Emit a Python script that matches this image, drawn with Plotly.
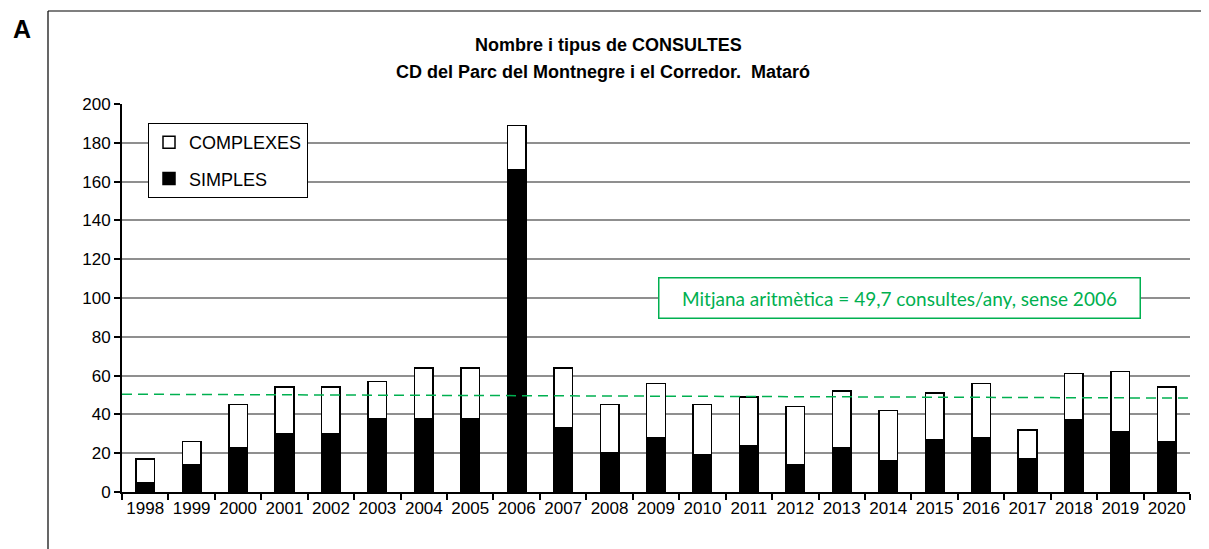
import plotly.graph_objects as go

years = [str(y) for y in range(1998, 2021)]
total = [17, 26, 45, 54, 54, 57, 64, 64, 189, 64, 45, 56, 45, 49, 44, 52, 42, 51, 56, 32, 61, 62, 54]
simples = [5, 14, 23, 30, 30, 38, 38, 38, 166, 33, 20, 28, 19, 24, 14, 23, 16, 27, 28, 17, 37, 31, 26]
complexes = [t - s for t, s in zip(total, simples)]
mean_line = [50.4, 48.4]  # drawn dashed line (left, right)
y_ticks = list(range(0, 201, 20))

OFF = 8  # page body margin offset
W, H = 1209, 549
# desired screen positions: plot left 122, right 1190, top 104, bottom 492
ML = 122 - OFF
MT = 104 - OFF
MR = W - (1190 - OFF)
MB = H - (492 - OFF)
PW = W - ML - MR
PH = H - MT - MB

def px_x(p):
    return (p - OFF - ML) / PW

def px_y(p):
    return (H - MB - (p - OFF)) / PH

FONT = "Liberation Sans, Arial, sans-serif"
GREEN = "#00B050"

fig = go.Figure()
fig.add_trace(go.Bar(
    x=years, y=simples, name="SIMPLES", legendgroup="s", legendrank=2,
    marker=dict(color="black", line=dict(color="black", width=1.5)), width=0.4,
))
fig.add_trace(go.Bar(
    x=years, y=complexes, name="COMPLEXES", legendgroup="c", legendrank=1,
    marker=dict(color="white", line=dict(color="black", width=1.5)), width=0.4,
))

fig.update_layout(
    width=W, height=H,
    margin=dict(l=ML, r=MR, t=MT, b=MB, autoexpand=False),
    barmode="stack",
    plot_bgcolor="white", paper_bgcolor="white",
    font=dict(family=FONT, size=16, color="black"),
    showlegend=True,
    legend=dict(
        x=px_x(148), y=px_y(123), xanchor="left", yanchor="top",
        bordercolor="black", borderwidth=1, bgcolor="white",
        font=dict(family=FONT, size=18), tracegroupgap=10,
        itemwidth=30,
    ),
    xaxis=dict(
        type="category", showline=True, linecolor="black", linewidth=2,
        ticks="outside", tickson="boundaries", ticklen=6, tickcolor="black", tickwidth=2,
        showgrid=False, tickfont=dict(family=FONT, size=17), tickangle=0, automargin=False,
    ),
    yaxis=dict(
        range=[0, 200], tickvals=y_ticks, showline=True, linecolor="black", linewidth=2,
        ticks="outside", ticklen=6, tickcolor="black", tickwidth=2,
        showgrid=True, gridcolor="#8f8f8f", gridwidth=1.5, zeroline=False,
        tickfont=dict(family=FONT, size=17), automargin=False,
    ),
)

# outer frame: top and left edges only (others fall outside the picture)
fig.add_shape(type="line", xref="paper", yref="paper",
              x0=px_x(48), x1=px_x(1217), y0=px_y(11), y1=px_y(11),
              line=dict(color="black", width=1.2), layer="below")
fig.add_shape(type="line", xref="paper", yref="paper",
              x0=px_x(48), x1=px_x(48), y0=px_y(11), y1=px_y(560),
              line=dict(color="black", width=1.2), layer="below")

# dashed mean line
fig.add_shape(type="line", xref="paper", yref="y", x0=0, x1=1,
              y0=mean_line[0], y1=mean_line[1],
              line=dict(color=GREEN, width=1.5, dash="10px,6px"))

# mean annotation box
fig.add_annotation(
    xref="paper", yref="y", x=px_x(899.5), y=100,
    text="Mitjana aritmètica = 49,7 consultes/any, sense 2006",
    showarrow=False, font=dict(family="Lato, sans-serif", size=19, color=GREEN),
    bgcolor="white", bordercolor=GREEN, borderwidth=1.5, borderpad=2,
    width=476, height=35, xanchor="center", yanchor="middle",
)

# title lines
fig.add_annotation(xref="paper", yref="paper", x=px_x(608), y=px_y(45),
                   text="<b>Nombre i tipus de CONSULTES</b>", showarrow=False,
                   font=dict(family=FONT, size=18), xanchor="center", yanchor="middle")
fig.add_annotation(xref="paper", yref="paper", x=px_x(603), y=px_y(72),
                   text="<b>CD del Parc del Montnegre i el Corredor.  Mataró</b>", showarrow=False,
                   font=dict(family=FONT, size=18), xanchor="center", yanchor="middle")

# panel label
fig.add_annotation(xref="paper", yref="paper", x=px_x(22), y=px_y(29),
                   text="<b>A</b>", showarrow=False,
                   font=dict(family=FONT, size=25), xanchor="center", yanchor="middle")

fig.write_html("out.html")
